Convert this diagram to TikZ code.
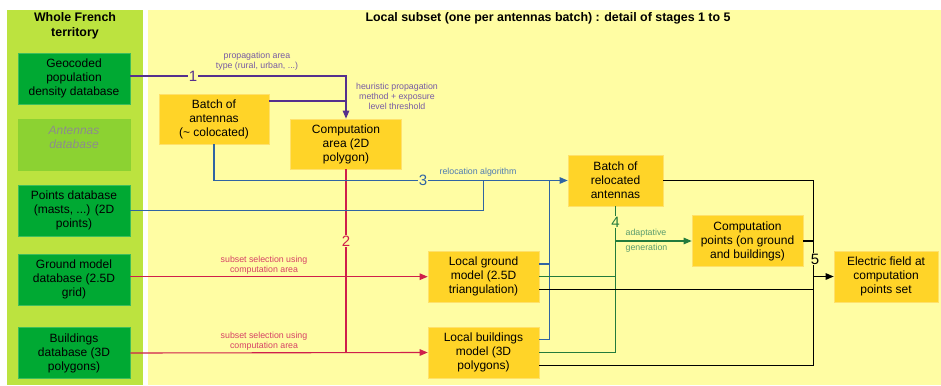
\documentclass[tikz,border=0pt]{standalone}
\usepackage{fontspec}
\setmainfont{Liberation Sans}
\usetikzlibrary{arrows.meta}
\definecolor{panelgreen}{HTML}{BCE33F}
\definecolor{panelyellow}{HTML}{FFFDA3}
\definecolor{dbgreen}{HTML}{00A933}
\definecolor{dbgreenborder}{HTML}{3DBE5C}
\definecolor{dblight}{HTML}{8CD232}
\definecolor{boxorange}{HTML}{FFD428}
\definecolor{boxborder}{HTML}{FFE16A}
\definecolor{cpurple}{HTML}{55308D}
\definecolor{cblue}{HTML}{2F64A3}
\definecolor{cgreen}{HTML}{237B3C}
\definecolor{cred}{HTML}{CF1F4B}
\tikzset{
  dbbox/.style={rectangle, fill=dbgreen, draw=dbgreenborder, line width=0.6pt,
    minimum width=112pt, minimum height=51pt, inner sep=0pt, align=center,
    font=\fontsize{12}{14}\selectfont},
  dbgray/.style={dbbox, fill=dblight, draw=dblight, text=black!45,
    font=\fontsize{12}{14}\selectfont\itshape},
  procbox/.style={rectangle, fill=boxorange, draw=boxborder, line width=0.6pt,
    minimum height=51pt, inner sep=0pt, align=center,
    font=\fontsize{12}{14}\selectfont},
  numlab/.style={fill=panelyellow, inner sep=1pt, font=\fontsize{15}{15}\selectfont},
  smalllab/.style={inner sep=0pt, align=center, font=\fontsize{8.8}{10}\selectfont},
  titlelab/.style={inner sep=0pt, align=center, font=\fontsize{12.4}{15}\selectfont\bfseries},
  conn/.style={line width=1.1pt},
  >={Triangle[length=8pt,width=6.5pt]}
}
\begin{document}
\begin{tikzpicture}[x=1pt,y=-1pt]
\useasboundingbox (0,0) rectangle (941,385);
\fill[white] (0,0) rectangle (941,385);
% panels
\fill[panelgreen] (7,10) rectangle (143,385);
\fill[panelyellow] (148,10) rectangle (941,385);
\node[titlelab] (t1) at (75,26) {Whole French\\territory};
\node[titlelab] (t2) at (548,18) {Local subset (one per antennas batch) : detail of stages 1 to 5};

% database boxes
\node[dbbox] (geo) at (74,78.5) {Geocoded\\population\\density database};
\node[dbgray] (ant) at (74,144.5) {Antennas\\database\\\mbox{}};
\node[dbbox] (pts) at (74,210.5) {Points database\\(masts, ...) (2D\\points)};
\node[dbbox] (gnd) at (74,279.5) {Ground model\\database (2.5D\\grid)};
\node[dbbox] (bld) at (74,353) {Buildings\\database (3D\\polygons)};

% process boxes
\node[procbox, minimum width=110pt, minimum height=50pt] (batch) at (214,119) {Batch of\\antennas\\(\textasciitilde{} colocated)};
\node[procbox, minimum width=111pt, minimum height=50pt] (area) at (346,144) {Computation\\area (2D\\polygon)};
\node[procbox, minimum width=95pt] (reloc) at (615.5,180.5) {Batch of\\relocated\\antennas};
\node[procbox, minimum width=111pt] (lgnd) at (483.5,276.5) {Local ground\\model (2.5D\\triangulation)};
\node[procbox, minimum width=111pt] (lbld) at (483.5,352.5) {Local buildings\\model (3D\\polygons)};
\node[procbox, minimum width=111pt] (cpts) at (747.5,241) {Computation\\points (on ground\\and buildings)};
\node[procbox, minimum width=104pt] (efield) at (886,276.5) {Electric field at\\computation\\points set};

% port coordinates
\coordinate (geoE) at ([yshift=2.5pt]geo.east);
\coordinate (batchE) at ([yshift=18pt]batch.east);
\coordinate (gndE) at ([yshift=2.8pt]gnd.east);
\coordinate (lgndB) at ([yshift=12.5pt]lgnd.east);
\coordinate (lbldB) at ([yshift=13pt]lbld.east);
\coordinate (lgndK) at ([yshift=-12.8pt]lgnd.east);
\coordinate (lbldK) at ([yshift=-13pt]lbld.east);
% junction coordinates
\coordinate (jb) at (483.5,180);
\coordinate (jc) at (549.5,180);
\coordinate (jk) at (813.5,180);
\coordinate (jkend) at (813.5,365.5);

% stage 1 (purple)
\draw[conn, cpurple, ->] (geoE) -| (area.north);
\draw[conn, cpurple] (batchE) -- (area.north |- batchE);

% stage 2 (red)
\draw[conn, cred, ->] (gndE) -- (lgnd.west |- gndE);
\draw[conn, cred, ->] (bld.east) -- (lbld.west);
\draw[conn, cred] (area.south) -- (area.south |- lbld.west);

% stage 3 (blue)
\draw[conn, cblue, ->] (batch.south) |- (reloc.west);
\draw[conn, cblue] (pts.east) -| (jb);
\draw[conn, cblue] (lgndB) -| (jc);
\draw[conn, cblue] (lbldB) -| (jc);

% stage 4 (green)
\draw[conn, cgreen] (reloc.south) -- (reloc.south |- lbld.east);
\draw[conn, cgreen] (lgnd.east) -- (reloc.south |- lgnd.east);
\draw[conn, cgreen] (lbld.east) -- (reloc.south |- lbld.east);
\draw[conn, cgreen, ->] (reloc.south |- cpts.west) -- (cpts.west);

% stage 5 (black)
\draw[conn, black] (reloc.east) -| (jkend);
\draw[conn, black] (cpts.east) -- (jk |- cpts.east);
\draw[conn, black] (lgndK) -- (jk |- lgndK);
\draw[conn, black] (lbldK) -- (jk |- lbldK);
\draw[conn, black, ->] (jk |- efield.west) -- (efield.west);

% labels
\node[numlab, text=cpurple] (n1) at (193,76) {1};
\node[smalllab, text=cpurple!80] (l1) at (257,61) {propagation area\\type (rural, urban, ...)};
\node[smalllab, text=cpurple!80] (l1b) at (397,96) {heuristic propagation\\method + exposure\\level threshold};
\node[numlab, text=cred] (n2) at (346,241) {2};
\node[smalllab, text=cred!85] (l2a) at (264,265) {subset selection using\\computation area};
\node[smalllab, text=cred!85] (l2b) at (264,341) {subset selection using\\computation area};
\node[numlab, text=cblue] (n3) at (423,180) {3};
\node[smalllab, text=cblue!85] (l3) at (478,172.5) {relocation algorithm};
\node[numlab, text=cgreen] (n4) at (615.5,222) {4};
\node[smalllab, text=cgreen!75, anchor=west] (l4a) at (625.5,233.5) {adaptative};
\node[smalllab, text=cgreen!75, anchor=west] (l4b) at (625.5,248) {generation};
\node[numlab, text=black] (n5) at (815,259) {5};
\end{tikzpicture}
\end{document}
